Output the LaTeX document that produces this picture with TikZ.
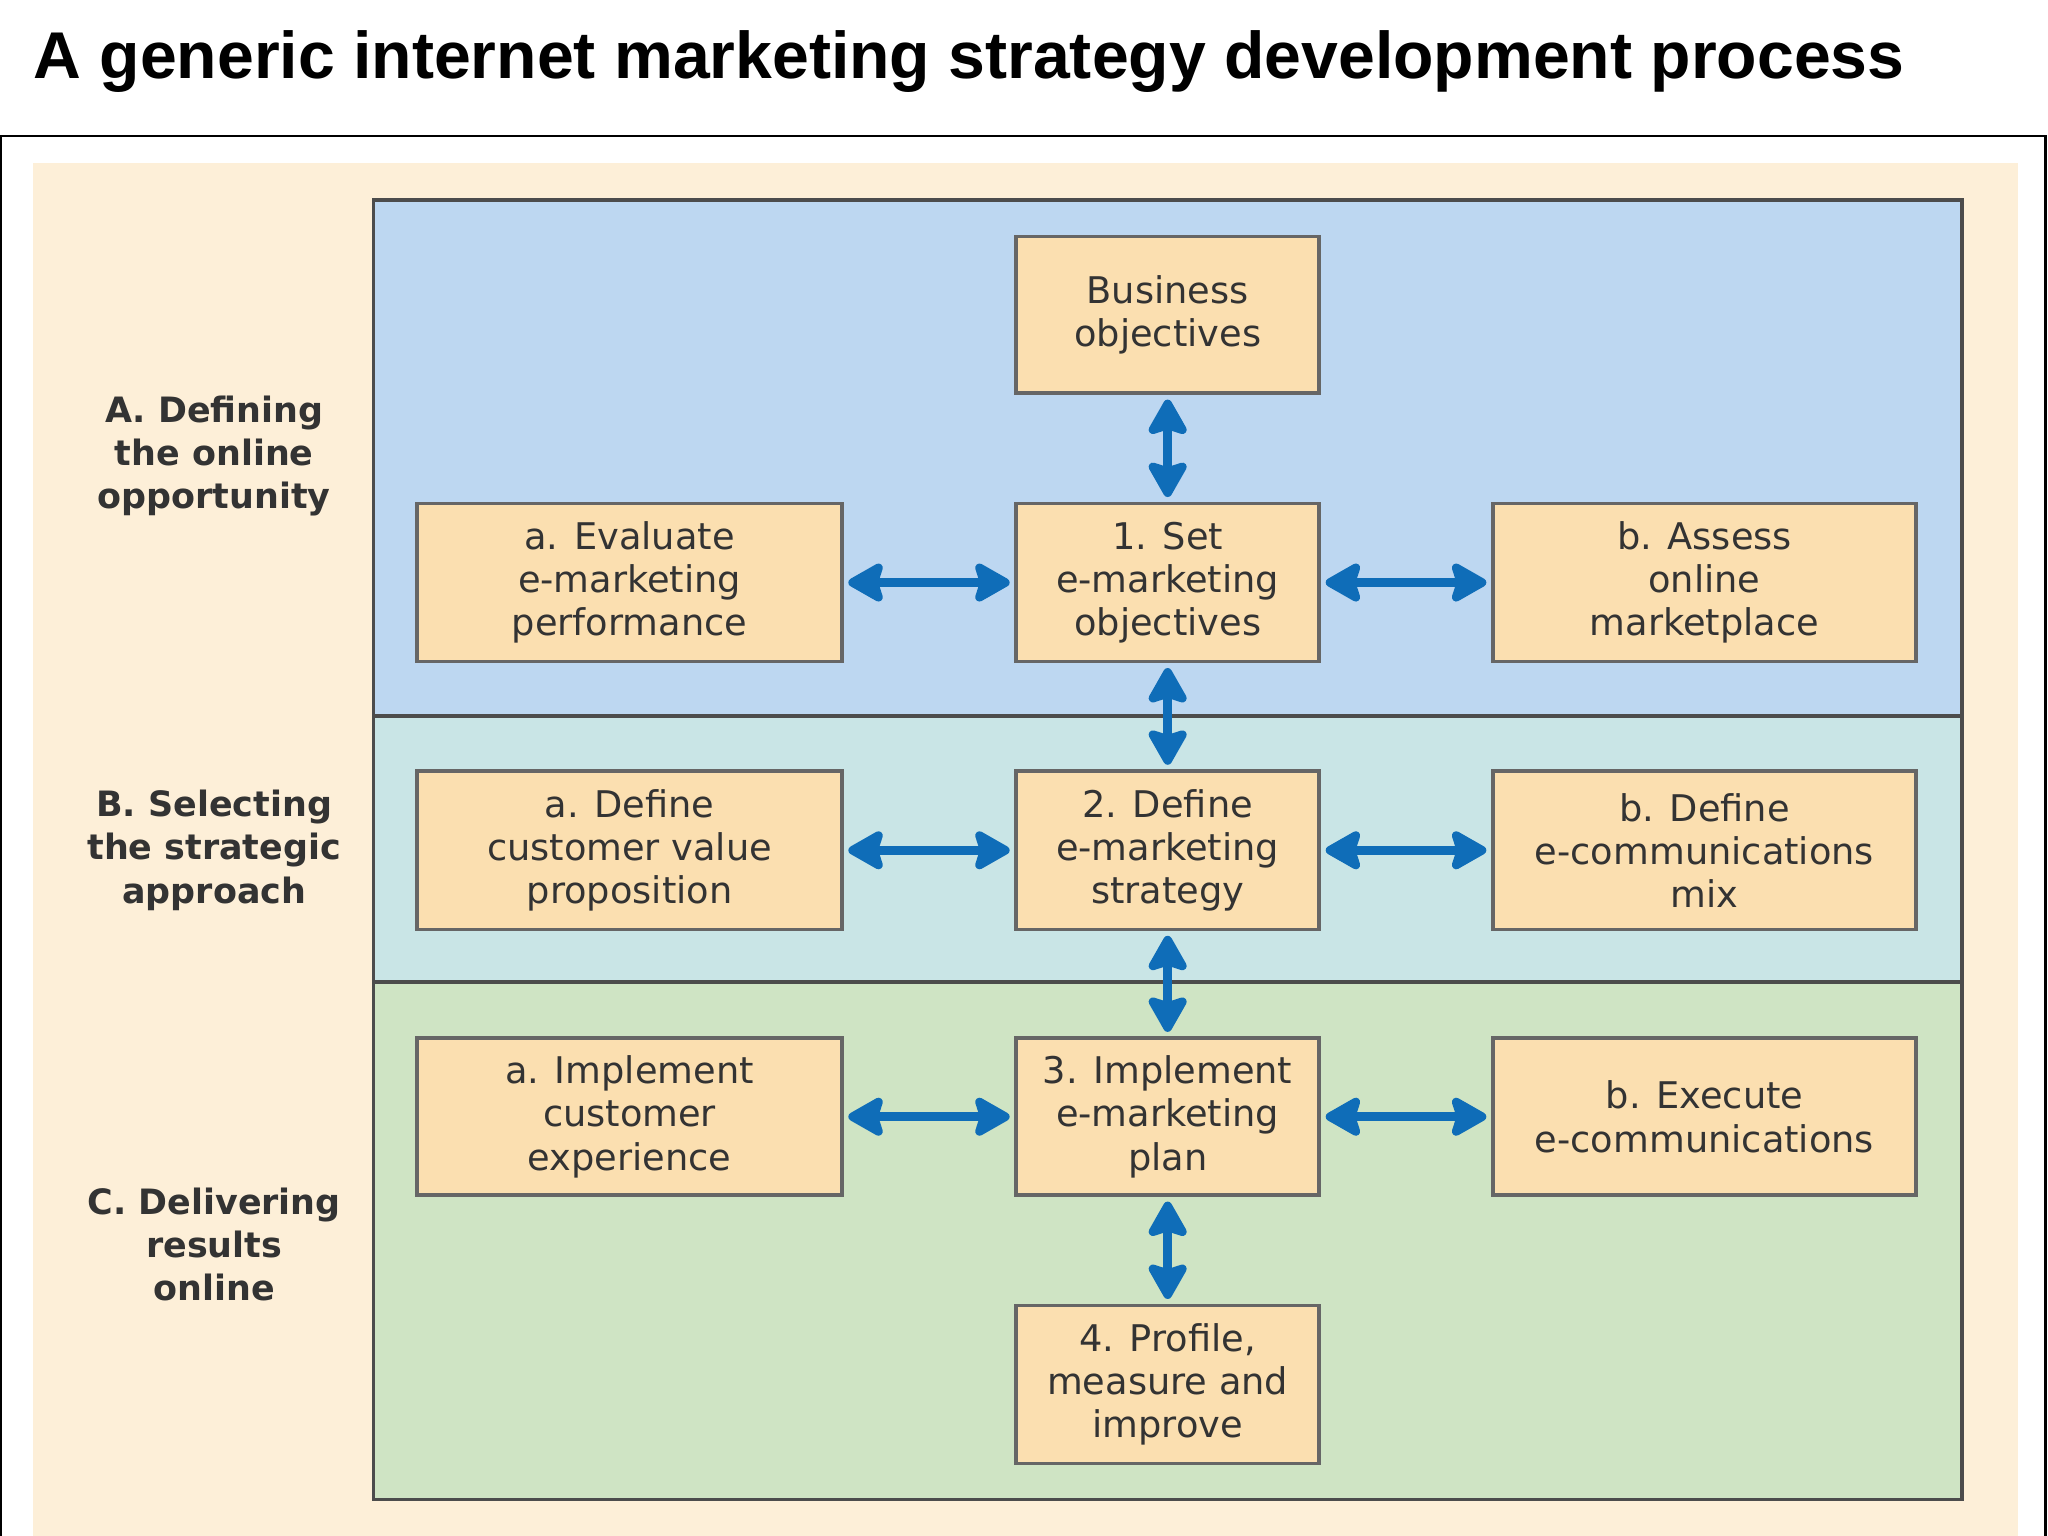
\documentclass[tikz,border=0pt]{standalone}
\usepackage{fontspec}
\setmainfont{DejaVu Sans}
\newfontfamily\titlefont{Liberation Sans}
\usetikzlibrary{arrows.meta}
\definecolor{bgorange}{HTML}{FDEFD8}
\definecolor{pblue}{HTML}{BDD7F1}
\definecolor{pteal}{HTML}{C9E5E6}
\definecolor{pgreen}{HTML}{CFE4C4}
\definecolor{boxfill}{HTML}{FBDFB0}
\definecolor{arrblue}{HTML}{0F6DB8}
\definecolor{labgray}{HTML}{333333}
\tikzset{
 panel/.style={draw=black!70,line width=0.8pt},
 stepbox/.style={draw=black!60,line width=0.8pt,fill=boxfill,align=center,font=\fontsize{8}{9.4}\selectfont,text=black!80},
 seclabel/.style={align=center,font=\bfseries\fontsize{7.6}{9.4}\selectfont,text=labgray},
 biarrow/.style={{Stealth[length=9pt,width=10pt,inset=1.5pt,round]}-{Stealth[length=9pt,width=10pt,inset=1.5pt,round]},line width=2pt,draw=arrblue,shorten <=1pt,shorten >=1pt}
}
\begin{document}
\begin{tikzpicture}[x=0.01cm,y=-0.01cm]
\useasboundingbox (0,0) rectangle (1568,1176);
\fill[white] (0,0) rectangle (1568,1176);
\node[anchor=base west,inner sep=0,font=\titlefont\bfseries\fontsize{14.4}{17}\selectfont] (title) at (25,60) {A generic internet marketing strategy development process};
\draw[line width=0.5pt] (1,1176) -- (1,104) -- (1566,104) -- (1566,1176);
\fill[bgorange] (25,125) rectangle (1545,1176);
\fill[pblue] (286,153) rectangle (1502,548);
\fill[pteal] (286,548) rectangle (1502,752);
\fill[pgreen] (286,752) rectangle (1502,1148);
\draw[panel] (286,153) rectangle (1502,1148);
\draw[panel] (286,548) -- (1502,548);
\draw[panel] (286,752) -- (1502,752);
\node[seclabel] (la) at (164,349) {A. Defining\\the online\\opportunity};
\node[seclabel] (lb) at (164,651) {B. Selecting\\the strategic\\approach};
\node[seclabel] (lc) at (164,953) {C. Delivering\\results\\online};
\node[stepbox,minimum width=2.32cm,minimum height=1.2cm] (bo) at (894,241) {Business\\objectives};
\node[stepbox,minimum width=2.32cm,minimum height=1.21cm] (c1) at (894,446) {1. Set\\e-marketing\\objectives};
\node[stepbox,minimum width=2.32cm,minimum height=1.21cm] (c2) at (894,651) {2. Define\\e-marketing\\strategy};
\node[stepbox,minimum width=2.32cm,minimum height=1.2cm] (c3) at (894,855) {3. Implement\\e-marketing\\plan};
\node[stepbox,minimum width=2.32cm,minimum height=1.21cm] (c4) at (894,1060) {4. Profile,\\measure and\\improve};
\node[stepbox,minimum width=3.25cm,minimum height=1.21cm] (l1) at (482,446) {a. Evaluate\\e-marketing\\performance};
\node[stepbox,minimum width=3.25cm,minimum height=1.21cm] (l2) at (482,651) {a. Define\\customer value\\proposition};
\node[stepbox,minimum width=3.25cm,minimum height=1.2cm] (l3) at (482,855) {a. Implement\\customer\\experience};
\node[stepbox,minimum width=3.24cm,minimum height=1.21cm] (r1) at (1305,446) {b. Assess\\online\\marketplace};
\node[stepbox,minimum width=3.24cm,minimum height=1.21cm] (r2) at (1305,651) {b. Define\\e-communications\\mix};
\node[stepbox,minimum width=3.24cm,minimum height=1.2cm] (r3) at (1305,855) {b. Execute\\e-communications};
\draw[biarrow] (bo) -- (c1);
\draw[biarrow] (c1) -- (c2);
\draw[biarrow] (c2) -- (c3);
\draw[biarrow] (c3) -- (c4);
\draw[biarrow] (l1) -- (c1);
\draw[biarrow] (c1) -- (r1);
\draw[biarrow] (l2) -- (c2);
\draw[biarrow] (c2) -- (r2);
\draw[biarrow] (l3) -- (c3);
\draw[biarrow] (c3) -- (r3);
\end{tikzpicture}
\end{document}
